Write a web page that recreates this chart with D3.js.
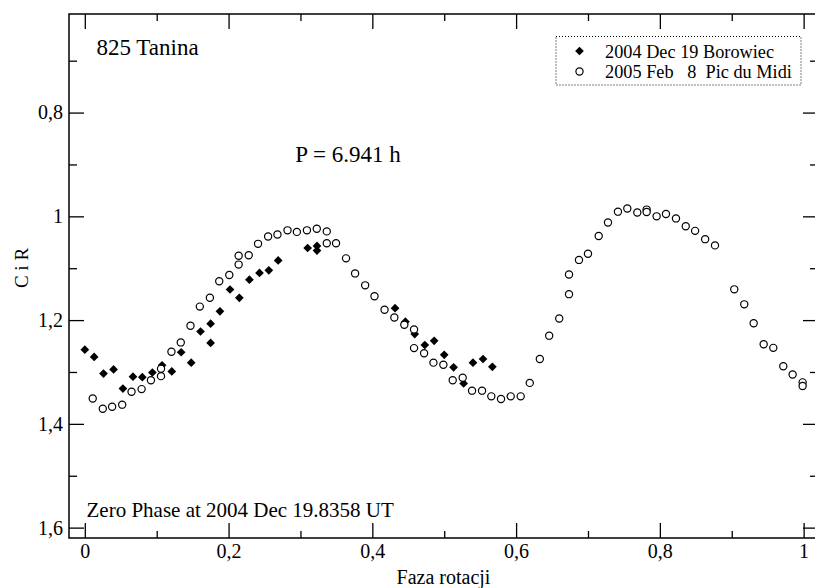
<!DOCTYPE html>
<html>
<head>
<meta charset="utf-8">
<script src="https://cdn.jsdelivr.net/npm/d3@7"></script>
<style>
  html, body { margin: 0; padding: 0; background: #fff; }
  svg { display: block; }
  svg text { font-family: "Liberation Serif", "Times New Roman", serif; fill: #000; }
</style>
</head>
<body>
<svg id="chart" width="815" height="588"></svg>
<script>
// Lightcurve of asteroid 825 Tanina, composite by rotation phase
const borowiecPhase = [0.000, 0.013, 0.026, 0.040, 0.053, 0.067, 0.080, 0.094, 0.1075, 0.121,
  0.134, 0.148, 0.161, 0.175, 0.175, 0.188, 0.202, 0.215, 0.229, 0.243, 0.256, 0.269,
  0.310, 0.323, 0.323, 0.4316, 0.446, 0.459, 0.473, 0.486, 0.500, 0.513, 0.527, 0.540, 0.554, 0.567];
const borowiecMag = [1.257, 1.271, 1.303, 1.295, 1.332, 1.309, 1.310, 1.301, 1.287, 1.299,
  1.262, 1.282, 1.222, 1.207, 1.244, 1.183, 1.141, 1.157, 1.122, 1.109, 1.104, 1.085,
  1.061, 1.057, 1.066, 1.177, 1.203, 1.227, 1.248, 1.240, 1.267, 1.291, 1.322, 1.282, 1.275, 1.290];

const picPhase = [0.011, 0.025, 0.038, 0.052, 0.065, 0.079, 0.092, 0.106, 0.106, 0.1205,
  0.1335, 0.147, 0.160, 0.174, 0.187, 0.201, 0.214, 0.214, 0.228, 0.241, 0.255, 0.268,
  0.282, 0.295, 0.309, 0.3227, 0.3366, 0.3366, 0.3495, 0.3634, 0.376, 0.390, 0.403, 0.417,
  0.4306, 0.4445, 0.458, 0.458, 0.472, 0.485, 0.4988, 0.5118, 0.5257, 0.5387, 0.5526,
  0.5655, 0.579, 0.5925, 0.6064, 0.619, 0.633, 0.646, 0.660, 0.6736, 0.6736, 0.6875, 0.700,
  0.7149, 0.7278, 0.7417, 0.7547, 0.7686, 0.7816, 0.7816, 0.7955, 0.8085, 0.8224, 0.836,
  0.849, 0.863, 0.8767, 0.9035, 0.9174, 0.9305, 0.9444, 0.9578, 0.9717, 0.9847, 0.9986, 0.9986];
const picMag = [1.351, 1.371, 1.367, 1.363, 1.338, 1.333, 1.316, 1.308, 1.294, 1.261,
  1.243, 1.211, 1.174, 1.157, 1.125, 1.113, 1.093, 1.076, 1.075, 1.053, 1.039, 1.035,
  1.027, 1.030, 1.027, 1.024, 1.029, 1.052, 1.052, 1.081, 1.110, 1.133, 1.154, 1.180,
  1.195, 1.209, 1.218, 1.254, 1.264, 1.282, 1.286, 1.316, 1.311, 1.336, 1.336,
  1.347, 1.352, 1.347, 1.347, 1.321, 1.275, 1.230, 1.197, 1.150, 1.112, 1.084, 1.072,
  1.038, 1.012, 0.991, 0.985, 0.9925, 0.987, 0.9917, 1.000, 0.9956, 1.004, 1.019,
  1.028, 1.044, 1.056, 1.1407, 1.1696, 1.206, 1.2466, 1.2535, 1.289, 1.305, 1.320, 1.327];

const xTicks = [0, 0.2, 0.4, 0.6, 0.8, 1];
const xTickLabels = ["0", "0,2", "0,4", "0,6", "0,8", "1"];
const xMinor = [0.1, 0.3, 0.5, 0.7, 0.9];
const yTicks = [0.8, 1.0, 1.2, 1.4, 1.6];
const yTickLabels = ["0,8", "1", "1,2", "1,4", "1,6"];
const yMinor = [0.7, 0.9, 1.1, 1.3, 1.5];

const legendLabels = ["2004 Dec 19 Borowiec", "2005 Feb   8  Pic du Midi"];

const svg = d3.select("#chart");
const frame = { left: 69, right: 818, top: 14, bottom: 538 };

const x = d3.scaleLinear().domain([-0.022, 1.02]).range([frame.left, frame.right]);
const y = d3.scaleLinear().domain([0.61, 1.62]).range([frame.top, frame.bottom]);

function styleAxis(g) {
  g.attr("font-family", null).attr("font-size", null);
  g.select(".domain").remove();
  g.selectAll("line").attr("stroke", "#000").attr("stroke-width", 1.3);
  g.selectAll("text").attr("font-size", 20).attr("fill", "#000");
}

// bottom axis (labels) + minor
svg.append("g").attr("transform", `translate(0,${frame.bottom})`)
  .call(d3.axisBottom(x).tickValues(xTicks).tickSize(-15).tickPadding(6)
    .tickFormat((d, i) => xTickLabels[i]))
  .call(styleAxis);
svg.append("g").attr("transform", `translate(0,${frame.bottom})`)
  .call(d3.axisBottom(x).tickValues(xMinor).tickSize(-7).tickFormat(""))
  .call(styleAxis);
// top axis ticks
svg.append("g").attr("transform", `translate(0,${frame.top})`)
  .call(d3.axisTop(x).tickValues(xTicks).tickSize(-15).tickFormat(""))
  .call(styleAxis);
svg.append("g").attr("transform", `translate(0,${frame.top})`)
  .call(d3.axisTop(x).tickValues(xMinor).tickSize(-7).tickFormat(""))
  .call(styleAxis);
// left axis (labels) + minor
svg.append("g").attr("transform", `translate(${frame.left},0)`)
  .call(d3.axisLeft(y).tickValues(yTicks).tickSize(-15).tickPadding(6)
    .tickFormat((d, i) => yTickLabels[i]))
  .call(styleAxis);
svg.append("g").attr("transform", `translate(${frame.left},0)`)
  .call(d3.axisLeft(y).tickValues(yMinor).tickSize(-8).tickFormat(""))
  .call(styleAxis);
// right axis ticks
svg.append("g").attr("transform", `translate(${frame.right},0)`)
  .call(d3.axisRight(y).tickValues(yTicks).tickSize(-15).tickFormat(""))
  .call(styleAxis);
svg.append("g").attr("transform", `translate(${frame.right},0)`)
  .call(d3.axisRight(y).tickValues(yMinor).tickSize(-8).tickFormat(""))
  .call(styleAxis);

// plot frame
svg.append("rect")
  .attr("x", frame.left).attr("y", frame.top)
  .attr("width", frame.right - frame.left).attr("height", frame.bottom - frame.top)
  .attr("fill", "none").attr("stroke", "#000").attr("stroke-width", 1.5);

// Borowiec: filled diamonds
const diamond = d3.symbol().type(d3.symbolSquare).size(38);
svg.append("g").selectAll("path")
  .data(borowiecPhase.map((p, i) => [p, borowiecMag[i]]))
  .join("path")
  .attr("d", diamond)
  .attr("transform", d => `translate(${x(d[0])},${y(d[1])}) rotate(45)`)
  .attr("fill", "#000");

// Pic du Midi: open circles
svg.append("g").selectAll("circle")
  .data(picPhase.map((p, i) => [p, picMag[i]]))
  .join("circle")
  .attr("cx", d => x(d[0])).attr("cy", d => y(d[1]))
  .attr("r", 3.6)
  .attr("fill", "#fff").attr("stroke", "#000").attr("stroke-width", 1.2);

// annotations
svg.append("text").attr("x", 96.5).attr("y", 55).attr("font-size", 23).text("825 Tanina");
svg.append("text").attr("x", 348).attr("y", 162).attr("text-anchor", "middle")
  .attr("font-size", 23).text("P = 6.941 h");
svg.append("text").attr("x", 86.5).attr("y", 517).attr("font-size", 21)
  .text("Zero Phase at 2004 Dec 19.8358 UT");

// axis titles
svg.append("text").attr("x", 443.5).attr("y", 584).attr("text-anchor", "middle")
  .attr("font-size", 20).text("Faza rotacji");
svg.append("text").attr("transform", "translate(28,268) rotate(-90)")
  .attr("text-anchor", "middle").attr("font-size", 19).text("C i R");

// legend
const lg = svg.append("g");
lg.append("rect").attr("x", 556).attr("y", 36.5).attr("width", 245).attr("height", 48.5)
  .attr("fill", "#fff").attr("stroke", "#000").attr("stroke-width", 1)
  .attr("stroke-dasharray", "1,2");
lg.append("path").attr("d", diamond).attr("transform", "translate(579.5,51) rotate(45)").attr("fill", "#000");
lg.append("circle").attr("cx", 579.5).attr("cy", 71.5).attr("r", 3.6)
  .attr("fill", "#fff").attr("stroke", "#000").attr("stroke-width", 1.2);
legendLabels.forEach((t, i) => {
  lg.append("text").attr("x", 605).attr("y", 57.5 + i * 20.3)
    .attr("font-size", 18.3).style("white-space", "pre").text(t);
});
</script>
</body>
</html>
